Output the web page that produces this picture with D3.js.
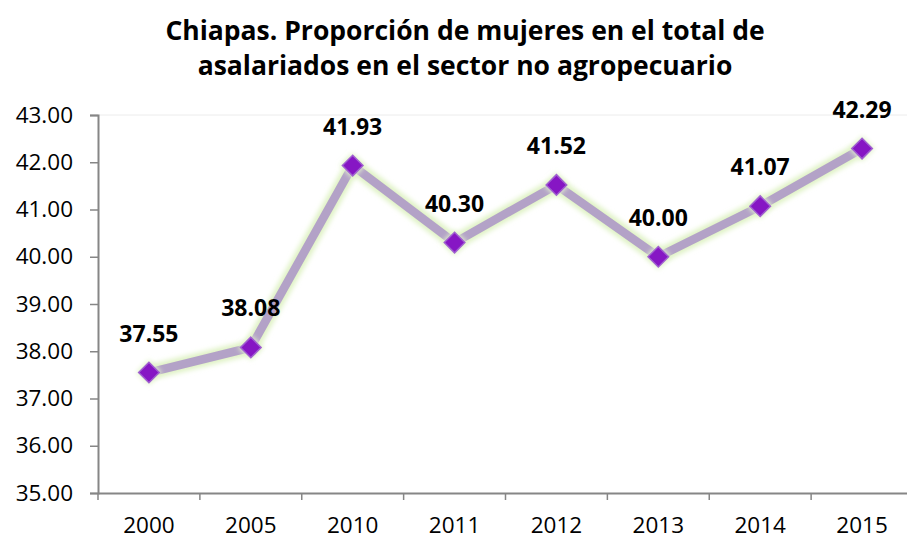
<!DOCTYPE html>
<html>
<head>
<meta charset="utf-8">
<script src="https://cdn.jsdelivr.net/npm/d3@7"></script>
<style>
  body { margin: 0; background: #fff; }
  svg text { font-family: "Open Sans", "Liberation Sans", sans-serif; }
</style>
</head>
<body>
<div id="chart"></div>
<script>
// data
var years = ["2000", "2005", "2010", "2011", "2012", "2013", "2014", "2015"];
var values = [37.55, 38.08, 41.93, 40.30, 41.52, 40.00, 41.07, 42.29];
var yTicks = [35, 36, 37, 38, 39, 40, 41, 42, 43];
var titleLines = ["Chiapas. Proporción de mujeres en el total de", "asalariados en el sector no agropecuario"];

var W = 907, H = 539;
var margin = {top: 115, right: -6, bottom: 46, left: 98};
var width = W - margin.left - margin.right,
    height = H - margin.top - margin.bottom;

var svg = d3.select("#chart").append("svg")
    .attr("width", W)
    .attr("height", H);

var defs = svg.append("defs");
var glow = defs.append("filter").attr("id", "glow")
    .attr("x", "-20%").attr("y", "-20%").attr("width", "140%").attr("height", "140%");
glow.append("feGaussianBlur").attr("stdDeviation", 2.5);

// title
svg.append("g").selectAll("text")
    .data(titleLines)
    .enter().append("text")
    .attr("x", 465)
    .attr("y", function(d, i) { return 40 + i * 35; })
    .attr("text-anchor", "middle")
    .style("font-size", "26.5px")
    .style("font-weight", "bold")
    .text(function(d) { return d; });

var g = svg.append("g")
    .attr("transform", "translate(" + margin.left + "," + margin.top + ")");

var x = d3.scaleBand().domain(years).range([0, width]);
var y = d3.scaleLinear().domain([35, 43]).range([height, 0]);

// faint top gridline
g.append("line")
    .attr("x1", 0).attr("x2", width)
    .attr("y1", y(43)).attr("y2", y(43))
    .attr("stroke", "#ececec");

// y axis
var yAxis = g.append("g")
    .call(d3.axisLeft(y).tickValues(yTicks).tickFormat(d3.format(".2f")).tickSize(8).tickPadding(17));
yAxis.select(".domain").attr("stroke", "#868686").attr("stroke-width", 2);
yAxis.selectAll(".tick line").attr("stroke", "#868686").attr("stroke-width", 1.5);
yAxis.selectAll("text").style("font-size", "22.5px").attr("fill", "#000");

// x axis
var xAxis = g.append("g")
    .attr("transform", "translate(0," + height + ")")
    .call(d3.axisBottom(x).tickSize(0).tickPadding(24));
xAxis.select(".domain").attr("stroke", "#868686").attr("stroke-width", 2);
xAxis.selectAll("text").style("font-size", "22.5px").attr("fill", "#000");
// boundary ticks between categories
xAxis.selectAll(".bt")
    .data(years)
    .enter().append("line")
    .attr("class", "bt")
    .attr("x1", function(d) { return x(d); })
    .attr("x2", function(d) { return x(d); })
    .attr("y1", 0).attr("y2", 7)
    .attr("stroke", "#868686").attr("stroke-width", 1.5);

var line = d3.line()
    .x(function(d, i) { return x(years[i]) + x.bandwidth() / 2; })
    .y(function(d) { return y(d); });

// glow under line
g.append("path")
    .datum(values)
    .attr("d", line)
    .attr("fill", "none")
    .attr("stroke", "#dff2c4")
    .attr("stroke-width", 15)
    .attr("stroke-linejoin", "round")
    .attr("filter", "url(#glow)");

g.append("path")
    .datum(values)
    .attr("d", line)
    .attr("fill", "none")
    .attr("stroke", "#b3a2c7")
    .attr("stroke-width", 8.5);

// markers
g.selectAll(".glowpt")
    .data(values)
    .enter().append("path")
    .attr("transform", function(d, i) { return "translate(" + (x(years[i]) + x.bandwidth() / 2) + "," + y(d) + ")"; })
    .attr("d", d3.symbol().type(d3.symbolDiamond2).size(420))
    .attr("fill", "#e2f3cc")
    .attr("filter", "url(#glow)");

g.selectAll(".pt")
    .data(values)
    .enter().append("path")
    .attr("class", "pt")
    .attr("transform", function(d, i) { return "translate(" + (x(years[i]) + x.bandwidth() / 2) + "," + y(d) + ")"; })
    .attr("d", d3.symbol().type(d3.symbolDiamond2).size(270))
    .attr("fill", "#8616c4")
    .attr("stroke", "#a060d0")
    .attr("stroke-width", 1.5);

// data labels
g.selectAll(".lbl")
    .data(values)
    .enter().append("text")
    .attr("class", "lbl")
    .attr("x", function(d, i) { return x(years[i]) + x.bandwidth() / 2; })
    .attr("y", function(d) { return y(d) - 31; })
    .attr("text-anchor", "middle")
    .style("font-size", "23px")
    .style("font-weight", "bold")
    .text(function(d) { return d3.format(".2f")(d); });
</script>
</body>
</html>
